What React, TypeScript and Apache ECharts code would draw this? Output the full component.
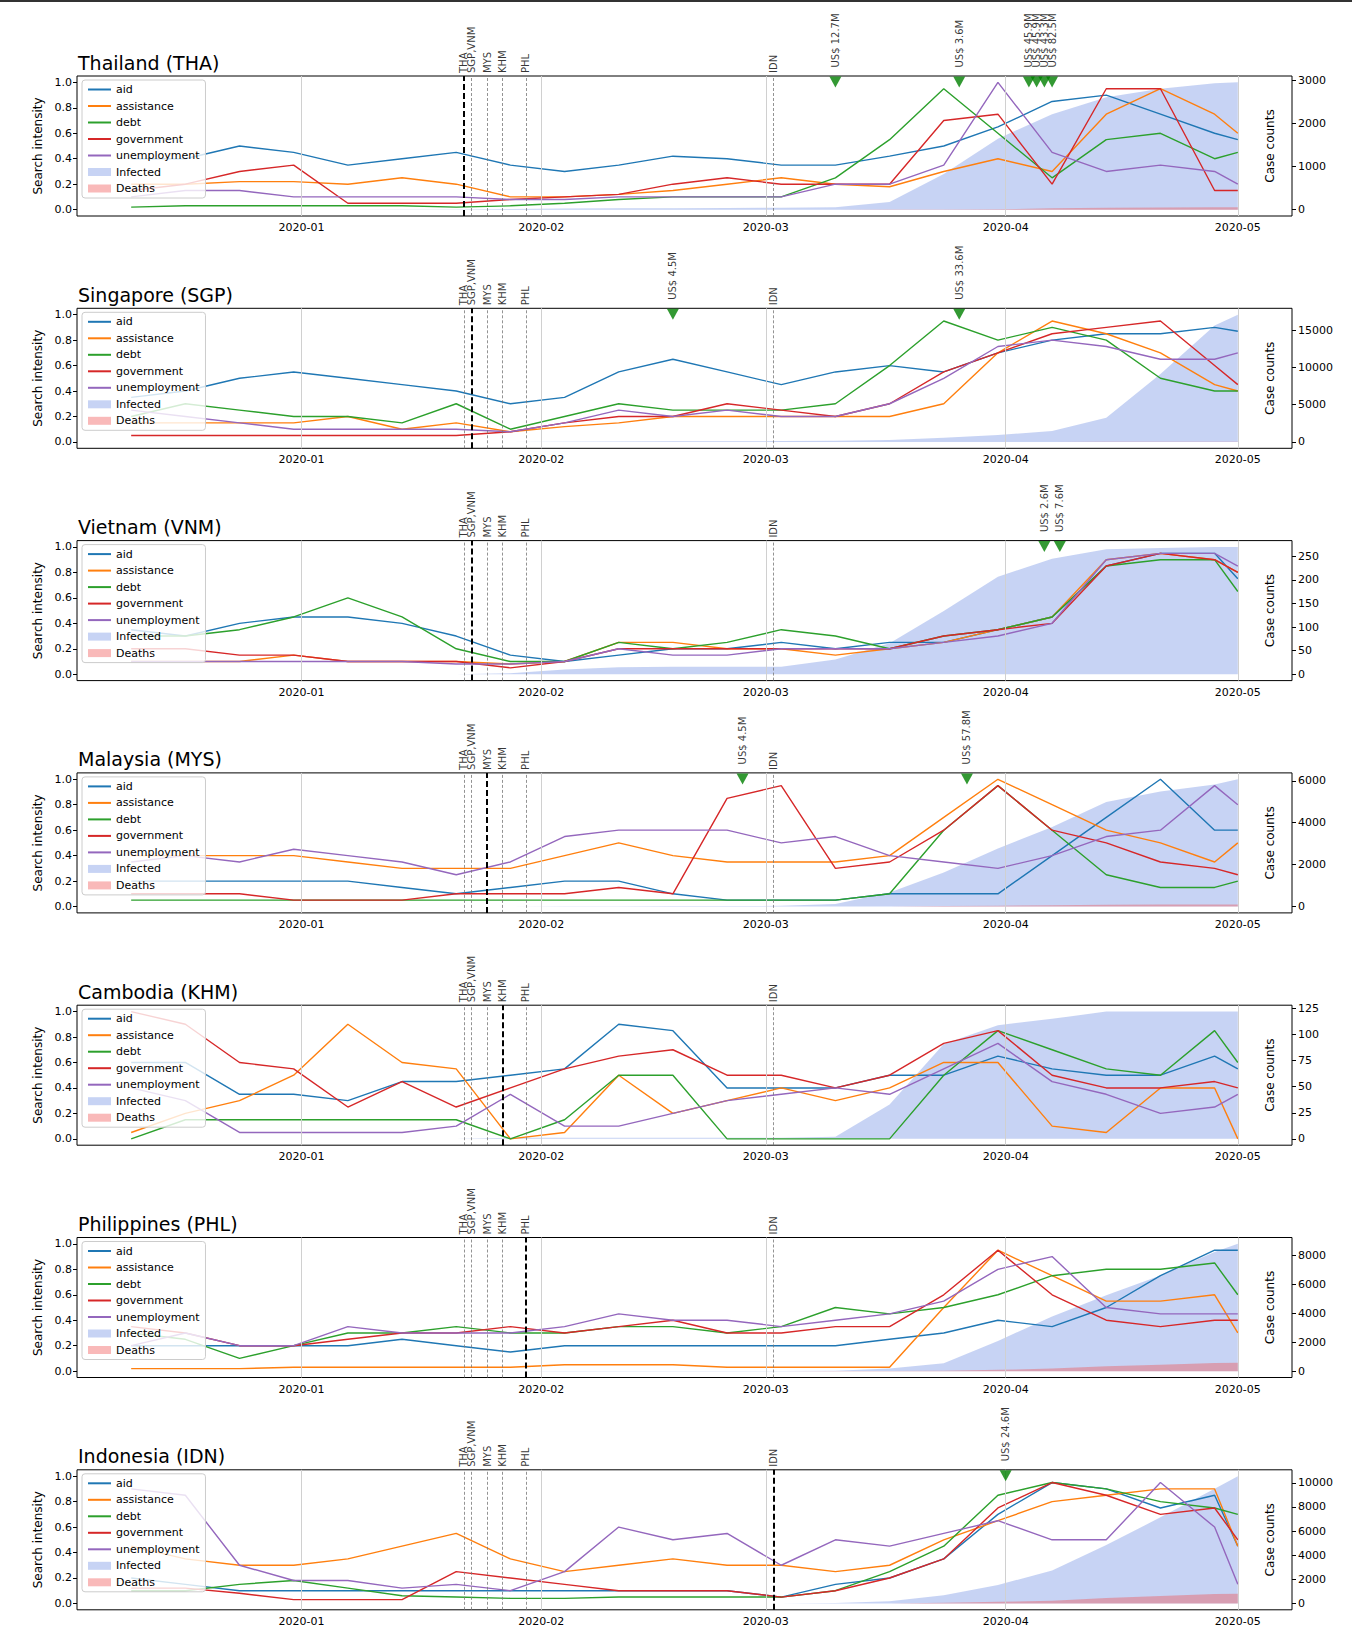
import React, { useEffect, useRef } from "react";
import * as echarts from "echarts";

const dates = ["2019-12-10","2019-12-17","2019-12-24","2019-12-31","2020-01-07","2020-01-14","2020-01-21","2020-01-28","2020-02-04","2020-02-11","2020-02-18","2020-02-25","2020-03-03","2020-03-10","2020-03-17","2020-03-24","2020-03-31","2020-04-07","2020-04-14","2020-04-21","2020-04-28","2020-05-01"];
const monthTicks = ["2020-01-01","2020-02-01","2020-03-01","2020-04-01","2020-05-01"];
const xRange = ["2019-12-03", "2020-05-08"];
const termNames = ["aid", "assistance", "debt", "government", "unemployment"];
const termColors = ["#1f77b4", "#ff7f0e", "#2ca02c", "#d62728", "#9467bd"];

const eventDates = ["2020-01-22","2020-01-23","2020-01-25","2020-01-27","2020-01-30","2020-03-02"];
const eventLabels = ["THA","SGP,VNM","MYS","KHM","PHL","IDN"];

// Thailand
const THA_aid = [0.4,0.4,0.5,0.45,0.35,0.4,0.45,0.35,0.3,0.35,0.42,0.4,0.35,0.35,0.42,0.5,0.65,0.85,0.9,0.75,0.6,0.55];
const THA_assistance = [0.2,0.2,0.22,0.22,0.2,0.25,0.2,0.1,0.1,0.12,0.15,0.2,0.25,0.2,0.18,0.3,0.4,0.3,0.75,0.95,0.75,0.6];
const THA_debt = [0.02,0.03,0.03,0.03,0.03,0.03,0.02,0.03,0.05,0.08,0.1,0.1,0.1,0.25,0.55,0.95,0.6,0.25,0.55,0.6,0.4,0.45];
const THA_government = [0.15,0.2,0.3,0.35,0.05,0.05,0.05,0.08,0.1,0.12,0.2,0.25,0.2,0.2,0.2,0.7,0.75,0.2,0.95,0.95,0.15,0.15];
const THA_unemployment = [0.1,0.15,0.15,0.1,0.1,0.1,0.1,0.08,0.08,0.1,0.1,0.1,0.1,0.2,0.2,0.35,1.0,0.45,0.3,0.35,0.3,0.2];
const THA_infected = [0,0,0,0,0,2,4,14,25,33,35,40,43,53,177,827,1651,2220,2613,2811,2938,2960];
const THA_deaths = [0,0,0,0,0,0,0,0,0,0,0,0,0,0,1,4,10,30,41,49,54,54];
const THA_fundDates = ["2020-03-10","2020-03-26","2020-04-04","2020-04-05","2020-04-06","2020-04-07"];
const THA_fundLabels = ["US$ 12.7M","US$ 3.6M","US$ 45.9M","US$ 45.9M","US$ 43.3M","US$ 82.5M"];
const THA_caseTicks = [0,1000,2000,3000];

// Singapore
const SGP_aid = [0.35,0.4,0.5,0.55,0.5,0.45,0.4,0.3,0.35,0.55,0.65,0.55,0.45,0.55,0.6,0.55,0.7,0.8,0.85,0.85,0.9,0.87];
const SGP_assistance = [0.15,0.15,0.15,0.15,0.2,0.1,0.15,0.08,0.12,0.15,0.2,0.2,0.2,0.2,0.2,0.3,0.7,0.95,0.85,0.7,0.45,0.4];
const SGP_debt = [0.2,0.3,0.25,0.2,0.2,0.15,0.3,0.1,0.2,0.3,0.25,0.25,0.25,0.3,0.6,0.95,0.8,0.9,0.8,0.5,0.4,0.4];
const SGP_government = [0.05,0.05,0.05,0.05,0.05,0.05,0.05,0.08,0.15,0.2,0.2,0.3,0.25,0.2,0.3,0.55,0.7,0.85,0.9,0.95,0.6,0.45];
const SGP_unemployment = [0.25,0.2,0.15,0.1,0.1,0.1,0.1,0.08,0.15,0.25,0.2,0.25,0.2,0.2,0.3,0.5,0.75,0.8,0.75,0.65,0.65,0.7];
const SGP_infected = [0,0,0,0,0,0,0,7,24,47,77,93,110,166,266,558,926,1481,3252,9125,15641,17101];
const SGP_deaths = [0,0,0,0,0,0,0,0,0,0,0,0,0,0,0,2,3,6,10,12,14,15];
const SGP_fundDates = ["2020-02-18","2020-03-26"];
const SGP_fundLabels = ["US$ 4.5M","US$ 33.6M"];
const SGP_caseTicks = [0,5000,10000,15000];

// Vietnam
const VNM_aid = [0.35,0.3,0.4,0.45,0.45,0.4,0.3,0.15,0.1,0.15,0.2,0.2,0.25,0.2,0.25,0.25,0.35,0.45,0.85,0.95,0.95,0.75];
const VNM_assistance = [0.1,0.1,0.1,0.15,0.1,0.1,0.1,0.08,0.1,0.25,0.25,0.2,0.2,0.15,0.2,0.25,0.35,0.45,0.9,0.95,0.9,0.8];
const VNM_debt = [0.3,0.3,0.35,0.45,0.6,0.45,0.2,0.1,0.1,0.25,0.2,0.25,0.35,0.3,0.2,0.3,0.35,0.45,0.85,0.9,0.9,0.65];
const VNM_government = [0.2,0.2,0.15,0.15,0.1,0.1,0.1,0.05,0.1,0.2,0.2,0.2,0.2,0.2,0.2,0.3,0.35,0.4,0.85,0.95,0.9,0.8];
const VNM_unemployment = [0.1,0.1,0.1,0.1,0.1,0.1,0.08,0.08,0.1,0.2,0.15,0.15,0.2,0.2,0.2,0.25,0.3,0.4,0.9,0.95,0.95,0.85];
const VNM_infected = [0,0,0,0,0,0,0,2,10,15,16,16,16,31,66,134,207,245,265,268,270,270];
const VNM_deaths = [0,0,0,0,0,0,0,0,0,0,0,0,0,0,0,0,0,0,0,0,0,0];
const VNM_fundDates = ["2020-04-06","2020-04-08"];
const VNM_fundLabels = ["US$ 2.6M","US$ 7.6M"];
const VNM_caseTicks = [0,50,100,150,200,250];

// Malaysia
const MYS_aid = [0.2,0.2,0.2,0.2,0.2,0.15,0.1,0.15,0.2,0.2,0.1,0.05,0.05,0.05,0.1,0.1,0.1,0.4,0.7,1.0,0.6,0.6];
const MYS_assistance = [0.4,0.4,0.4,0.4,0.35,0.3,0.3,0.3,0.4,0.5,0.4,0.35,0.35,0.35,0.4,0.7,1.0,0.8,0.6,0.5,0.35,0.5];
const MYS_debt = [0.05,0.05,0.05,0.05,0.05,0.05,0.05,0.05,0.05,0.05,0.05,0.05,0.05,0.05,0.1,0.6,0.95,0.6,0.25,0.15,0.15,0.2];
const MYS_government = [0.1,0.1,0.1,0.05,0.05,0.05,0.1,0.1,0.1,0.15,0.1,0.85,0.95,0.3,0.35,0.6,0.95,0.6,0.5,0.35,0.3,0.25];
const MYS_unemployment = [0.35,0.4,0.35,0.45,0.4,0.35,0.25,0.35,0.55,0.6,0.6,0.6,0.5,0.55,0.4,0.35,0.3,0.4,0.55,0.6,0.95,0.8];
const MYS_infected = [0,0,0,0,0,0,0,4,10,18,22,22,36,117,673,1624,2766,3793,4987,5482,5820,6071];
const MYS_deaths = [0,0,0,0,0,0,0,0,0,0,0,0,0,0,2,20,43,62,82,96,100,103];
const MYS_fundDates = ["2020-02-27","2020-03-27"];
const MYS_fundLabels = ["US$ 4.5M","US$ 57.8M"];
const MYS_caseTicks = [0,2000,4000,6000];

// Cambodia
const KHM_aid = [0.6,0.6,0.35,0.35,0.3,0.45,0.45,0.5,0.55,0.9,0.85,0.4,0.4,0.4,0.5,0.5,0.65,0.55,0.5,0.5,0.65,0.55];
const KHM_assistance = [0.05,0.2,0.3,0.5,0.9,0.6,0.55,0.0,0.05,0.5,0.2,0.3,0.4,0.3,0.4,0.6,0.6,0.1,0.05,0.4,0.4,0.0];
const KHM_debt = [0.0,0.15,0.15,0.15,0.15,0.15,0.15,0.0,0.15,0.5,0.5,0.0,0.0,0.0,0.0,0.5,0.85,0.7,0.55,0.5,0.85,0.6];
const KHM_government = [1.0,0.9,0.6,0.55,0.25,0.45,0.25,0.4,0.55,0.65,0.7,0.5,0.5,0.4,0.5,0.75,0.85,0.5,0.4,0.4,0.45,0.4];
const KHM_unemployment = [0.4,0.3,0.05,0.05,0.05,0.05,0.1,0.35,0.1,0.1,0.2,0.3,0.35,0.4,0.35,0.55,0.75,0.45,0.35,0.2,0.25,0.35];
const KHM_infected = [0,0,0,0,0,0,0,1,1,1,1,1,1,2,33,91,109,115,122,122,122,122];
const KHM_deaths = [0,0,0,0,0,0,0,0,0,0,0,0,0,0,0,0,0,0,0,0,0,0];
const KHM_fundDates: string[] = [];
const KHM_fundLabels: string[] = [];
const KHM_caseTicks = [0,25,50,75,100,125];

// Philippines
const PHL_aid = [0.2,0.2,0.2,0.2,0.2,0.25,0.2,0.15,0.2,0.2,0.2,0.2,0.2,0.2,0.25,0.3,0.4,0.35,0.5,0.75,0.95,0.95];
const PHL_assistance = [0.02,0.02,0.02,0.03,0.03,0.03,0.03,0.03,0.05,0.05,0.05,0.03,0.03,0.03,0.03,0.5,0.95,0.75,0.55,0.55,0.6,0.3];
const PHL_debt = [0.3,0.25,0.1,0.2,0.3,0.3,0.35,0.3,0.3,0.35,0.35,0.3,0.35,0.5,0.45,0.5,0.6,0.75,0.8,0.8,0.85,0.6];
const PHL_government = [0.35,0.3,0.2,0.2,0.25,0.3,0.3,0.35,0.3,0.35,0.4,0.3,0.3,0.35,0.35,0.6,0.95,0.6,0.4,0.35,0.4,0.4];
const PHL_unemployment = [0.2,0.3,0.2,0.2,0.35,0.3,0.3,0.3,0.35,0.45,0.4,0.4,0.35,0.4,0.45,0.55,0.8,0.9,0.5,0.45,0.45,0.45];
const PHL_infected = [0,0,0,0,0,0,0,0,2,3,3,3,3,33,187,552,2084,3764,5223,6599,8212,8772];
const PHL_deaths = [0,0,0,0,0,0,0,0,0,0,0,0,0,1,14,35,88,177,335,437,558,579];
const PHL_fundDates: string[] = [];
const PHL_fundLabels: string[] = [];
const PHL_caseTicks = [0,2000,4000,6000,8000];

// Indonesia
const IDN_aid = [0.2,0.15,0.1,0.1,0.1,0.1,0.1,0.1,0.1,0.1,0.1,0.1,0.05,0.15,0.2,0.35,0.7,0.95,0.9,0.75,0.85,0.45];
const IDN_assistance = [0.45,0.35,0.3,0.3,0.35,0.45,0.55,0.35,0.25,0.3,0.35,0.3,0.3,0.25,0.3,0.5,0.65,0.8,0.85,0.9,0.9,0.45];
const IDN_debt = [0.1,0.1,0.15,0.18,0.12,0.06,0.05,0.04,0.04,0.05,0.05,0.05,0.05,0.1,0.25,0.45,0.85,0.95,0.9,0.8,0.75,0.7];
const IDN_government = [0.12,0.12,0.08,0.03,0.03,0.03,0.25,0.2,0.15,0.1,0.1,0.1,0.05,0.1,0.2,0.35,0.75,0.95,0.85,0.7,0.75,0.5];
const IDN_unemployment = [0.9,0.85,0.3,0.18,0.18,0.12,0.15,0.1,0.25,0.6,0.5,0.55,0.3,0.5,0.45,0.55,0.65,0.5,0.5,0.95,0.6,0.15];
const IDN_infected = [0,0,0,0,0,0,0,0,0,0,0,0,2,27,172,686,1528,2738,4839,7135,9511,10551];
const IDN_deaths = [0,0,0,0,0,0,0,0,0,0,0,0,0,0,5,55,136,221,459,616,773,800];
const IDN_fundDates = ["2020-04-01"];
const IDN_fundLabels = ["US$ 24.6M"];
const IDN_caseTicks = [0,2000,4000,6000,8000,10000];

const panels = [
  { title: "Thailand (THA)", ev: 0, terms: [THA_aid, THA_assistance, THA_debt, THA_government, THA_unemployment], inf: THA_infected, dea: THA_deaths, fd: THA_fundDates, fl: THA_fundLabels, ct: THA_caseTicks },
  { title: "Singapore (SGP)", ev: 1, terms: [SGP_aid, SGP_assistance, SGP_debt, SGP_government, SGP_unemployment], inf: SGP_infected, dea: SGP_deaths, fd: SGP_fundDates, fl: SGP_fundLabels, ct: SGP_caseTicks },
  { title: "Vietnam (VNM)", ev: 1, terms: [VNM_aid, VNM_assistance, VNM_debt, VNM_government, VNM_unemployment], inf: VNM_infected, dea: VNM_deaths, fd: VNM_fundDates, fl: VNM_fundLabels, ct: VNM_caseTicks },
  { title: "Malaysia (MYS)", ev: 2, terms: [MYS_aid, MYS_assistance, MYS_debt, MYS_government, MYS_unemployment], inf: MYS_infected, dea: MYS_deaths, fd: MYS_fundDates, fl: MYS_fundLabels, ct: MYS_caseTicks },
  { title: "Cambodia (KHM)", ev: 3, terms: [KHM_aid, KHM_assistance, KHM_debt, KHM_government, KHM_unemployment], inf: KHM_infected, dea: KHM_deaths, fd: KHM_fundDates, fl: KHM_fundLabels, ct: KHM_caseTicks },
  { title: "Philippines (PHL)", ev: 4, terms: [PHL_aid, PHL_assistance, PHL_debt, PHL_government, PHL_unemployment], inf: PHL_infected, dea: PHL_deaths, fd: PHL_fundDates, fl: PHL_fundLabels, ct: PHL_caseTicks },
  { title: "Indonesia (IDN)", ev: 5, terms: [IDN_aid, IDN_assistance, IDN_debt, IDN_government, IDN_unemployment], inf: IDN_infected, dea: IDN_deaths, fd: IDN_fundDates, fl: IDN_fundLabels, ct: IDN_caseTicks },
];

const T = (s: string) => Date.parse(s);
const INF_COLOR = "rgba(70,110,220,0.3)";
const DEA_COLOR = "rgba(240,80,80,0.4)";
const FONT = "DejaVu Sans";

function buildOption() {
  const grids: any[] = [], xAxes: any[] = [], yAxes: any[] = [], series: any[] = [], titles: any[] = [], legends: any[] = [];
  const monthVals = monthTicks.map(T);
  panels.forEach((p, i) => {
    const top = 76 + i * 232.3;
    grids.push({ left: 77, right: 60, top, height: 140, show: true, borderColor: "#000", borderWidth: 1, backgroundColor: "transparent" });
    titles.push({ text: p.title, left: 73, top: top - 28, textStyle: { fontSize: 19, fontWeight: "normal", color: "#000", fontFamily: FONT } });
    xAxes.push({
      type: "value", gridIndex: i, min: T(xRange[0]), max: T(xRange[1]),
      splitLine: { show: false }, axisLine: { show: false },
      axisTick: { show: true, customValues: monthVals, lineStyle: { color: "#000" }, length: 4 },
      axisLabel: {
        customValues: monthVals, fontSize: 11, color: "#000", fontFamily: FONT, margin: 6,
        formatter: (v: number) => { const d = new Date(v); return d.getUTCFullYear() + "-" + String(d.getUTCMonth() + 1).padStart(2, "0"); },
      },
    });
    const ticks = [0, 0.2, 0.4, 0.6, 0.8, 1.0];
    yAxes.push({
      type: "value", gridIndex: i, min: -0.05, max: 1.05, position: "left",
      name: "Search intensity", nameLocation: "middle", nameGap: 30, nameTextStyle: { fontSize: 12, color: "#000", fontFamily: FONT },
      splitLine: { show: false }, axisLine: { show: false },
      axisTick: { show: true, customValues: ticks, lineStyle: { color: "#000" }, length: 4 },
      axisLabel: { customValues: ticks, formatter: (v: number) => v.toFixed(1), fontSize: 11, color: "#000", fontFamily: FONT, margin: 5 },
    });
    const M = Math.max(...p.inf);
    yAxes.push({
      type: "value", gridIndex: i, min: -0.05 * M, max: 1.05 * M, position: "right",
      name: "Case counts", nameLocation: "middle", nameGap: -28, nameRotate: 90, nameTextStyle: { fontSize: 12, color: "#000", fontFamily: FONT },
      splitLine: { show: false }, axisLine: { show: false },
      axisTick: { show: true, customValues: p.ct, lineStyle: { color: "#000" }, length: 4 },
      axisLabel: { customValues: p.ct, formatter: (v: number) => String(Math.round(v)), fontSize: 11, color: "#000", fontFamily: FONT, margin: 6 },
    });
    const ya = 2 * i, yb = 2 * i + 1;
    const xs = dates.map(T);
    series.push({
      name: "Infected", type: "line", xAxisIndex: i, yAxisIndex: yb, showSymbol: false, symbol: "none",
      data: xs.map((x, k) => [x, p.inf[k]]), itemStyle: { color: INF_COLOR }, lineStyle: { width: 0 },
      areaStyle: { color: INF_COLOR, opacity: 1 }, z: 1,
      markLine: {
        silent: true, symbol: "none", label: { show: false }, animation: false,
        data: [
          ...monthVals.map((m) => ({ xAxis: m, lineStyle: { color: "#d0d0d0", type: "solid", width: 1 } })),
          ...eventDates.map((e, k) => ({ xAxis: T(e), lineStyle: k === p.ev ? { color: "#000", type: [6, 3], width: 2 } : { color: "#777", type: [3, 2], width: 0.8 } })),
        ],
      },
    });
    series.push({
      name: "Deaths", type: "line", xAxisIndex: i, yAxisIndex: yb, showSymbol: false, symbol: "none",
      data: xs.map((x, k) => [x, p.dea[k]]), itemStyle: { color: DEA_COLOR }, lineStyle: { width: 0 },
      areaStyle: { color: DEA_COLOR, opacity: 1 }, z: 2,
    });
    termNames.forEach((n, t) => {
      series.push({
        name: n, type: "line", xAxisIndex: i, yAxisIndex: ya, showSymbol: false, symbol: "none",
        data: xs.map((x, k) => [x, p.terms[t][k]]), itemStyle: { color: termColors[t] },
        lineStyle: { width: 1.4, color: termColors[t] }, z: 3,
      });
    });
    series.push({
      type: "scatter", xAxisIndex: i, yAxisIndex: ya, symbolSize: 0, silent: true, z: 5,
      data: eventDates.map((e, k) => ({ value: [T(e), 1.05], name: eventLabels[k] })),
      label: { show: true, position: "top", distance: 3, rotate: 90, align: "left", verticalAlign: "middle", formatter: "{b}", fontSize: 10, color: "#000", fontFamily: FONT },
    });
    if (p.fd.length) {
      series.push({
        type: "scatter", xAxisIndex: i, yAxisIndex: ya, symbol: "triangle", symbolRotate: 180, symbolSize: [12, 11], symbolOffset: [0, 6], silent: true, z: 6,
        itemStyle: { color: "#008000" },
        data: p.fd.map((d, k) => ({ value: [T(d), 1.05], name: p.fl[k] })),
        label: { show: true, position: "top", distance: 9, rotate: 90, align: "left", verticalAlign: "middle", formatter: "{b}", fontSize: 10, color: "#000", fontFamily: FONT },
      });
    }
    legends.push({
      orient: "vertical", left: 82, top: top + 4, itemWidth: 23, itemHeight: 8, itemGap: 5.5,
      backgroundColor: "rgba(255,255,255,0.8)", borderColor: "#ccc", borderWidth: 1, borderRadius: 3, padding: [4, 6, 4, 5],
      textStyle: { fontSize: 11, color: "#000", fontFamily: FONT },
      itemStyle: { opacity: 0 },
      data: [
        ...termNames.map((n) => ({ name: n })),
        { name: "Infected", icon: "rect", itemStyle: { opacity: 1 } },
        { name: "Deaths", icon: "rect", itemStyle: { opacity: 1 } },
      ],
    });
  });
  return {
    animation: false,
    textStyle: { fontFamily: FONT },
    title: titles, grid: grids, xAxis: xAxes, yAxis: yAxes, series, legend: legends,
    graphic: [{ type: "rect", left: 0, top: 0, shape: { width: 1352, height: 2 }, style: { fill: "#333" } }],
  };
}

export default function App() {
  const ref = useRef<HTMLDivElement>(null);
  useEffect(() => {
    const chart = echarts.init(ref.current!, null, { renderer: "svg" });
    chart.setOption(buildOption() as any);
    return () => chart.dispose();
  }, []);
  return <div ref={ref} style={{ position: "absolute", left: 0, top: 0, width: 1352, height: 1636, background: "#fff" }} />;
}
